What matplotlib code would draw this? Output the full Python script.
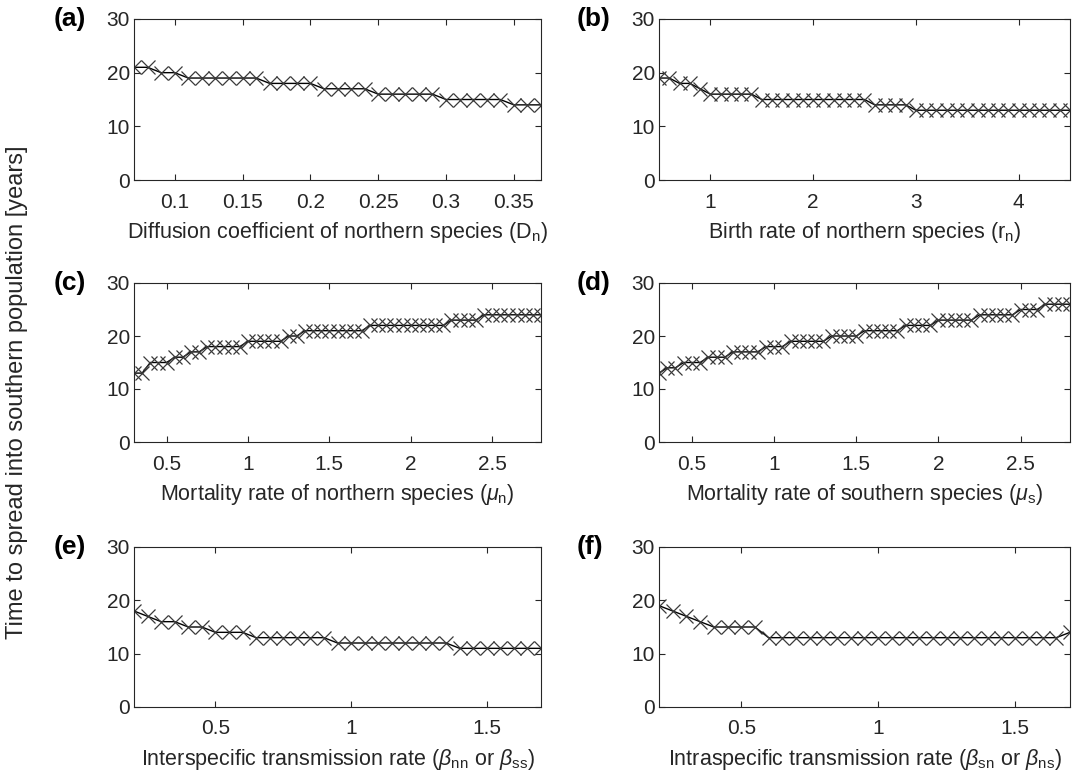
import numpy as np
import matplotlib.pyplot as plt
from matplotlib.ticker import FuncFormatter

plt.rcParams['font.family'] = ['Liberation Sans', 'DejaVu Sans']
plt.rcParams['mathtext.fontset'] = 'custom'
plt.rcParams['mathtext.rm'] = 'Liberation Sans'
plt.rcParams['mathtext.it'] = 'Liberation Sans:italic'

# (a) diffusion coefficient of northern species
x_a = np.round(np.arange(0.07, 0.3701, 0.01), 2)
y_a = [21, 21, 20, 20, 19, 19, 19, 19, 19, 19, 18, 18, 18, 18, 17, 17, 17, 17,
       16, 16, 16, 16, 16, 15, 15, 15, 15, 15, 14, 14, 14]

# (b) birth rate of northern species
x_b = np.round(np.arange(0.5, 4.501, 0.1), 2)
y_b = [19, 19, 18, 18, 17, 16, 16, 16, 16, 16,
       15, 15, 15, 15, 15, 15, 15, 15, 15, 15, 15,
       14, 14, 14, 14,
       13, 13, 13, 13, 13, 13, 13, 13, 13, 13, 13, 13, 13, 13, 13, 13]

# (c) mortality rate of northern species
x_c = np.round(np.arange(0.3, 2.8001, 0.05), 2)
y_c = [13, 13, 15, 15, 15, 16, 16, 17, 17, 18, 18, 18, 18, 18,
       19, 19, 19, 19, 19, 20, 20, 21, 21, 21, 21, 21, 21, 21, 21,
       22, 22, 22, 22, 22, 22, 22, 22, 22, 22, 23, 23, 23, 23,
       24, 24, 24, 24, 24, 24, 24, 24]

# (d) mortality rate of southern species
x_d = np.round(np.arange(0.3, 2.8001, 0.05), 2)
y_d = [13, 14, 14, 15, 15, 15, 16, 16, 16, 17, 17, 17, 17, 18, 18, 18,
       19, 19, 19, 19, 19, 20, 20, 20, 20, 21, 21, 21, 21, 21,
       22, 22, 22, 22, 23, 23, 23, 23, 23, 24, 24, 24, 24, 24,
       25, 25, 25, 26, 26, 26, 26]

# (e) interspecific transmission rate
x_e = np.round(np.arange(0.2, 1.7001, 0.05), 2)
y_e = [18, 17, 16, 16, 15, 15, 14, 14, 14, 13, 13, 13, 13, 13, 13,
       12, 12, 12, 12, 12, 12, 12, 12, 12, 11, 11, 11, 11, 11, 11, 11]

# (f) intraspecific transmission rate
x_f = np.round(np.arange(0.2, 1.7001, 0.05), 2)
y_f = [19, 18, 17, 16, 15, 15, 15, 15] + [13] * 22 + [14]

panels = [
    ("(a)", x_a, y_a, (0.07, 0.37), [0.1, 0.15, 0.2, 0.25, 0.3, 0.35],
     r"Diffusion coefficient of northern species (D$_{\rm n}$)"),
    ("(b)", x_b, y_b, (0.5, 4.5), [1, 2, 3, 4],
     r"Birth rate of northern species (r$_{\rm n}$)"),
    ("(c)", x_c, y_c, (0.3, 2.8), [0.5, 1, 1.5, 2, 2.5],
     r"Mortality rate of northern species ($\mu_{\rm n}$)"),
    ("(d)", x_d, y_d, (0.3, 2.8), [0.5, 1, 1.5, 2, 2.5],
     r"Mortality rate of southern species ($\mu_{\rm s}$)"),
    ("(e)", x_e, y_e, (0.2, 1.7), [0.5, 1, 1.5],
     r"Interspecific transmission rate ($\beta_{\rm nn}$ or $\beta_{\rm ss}$)"),
    ("(f)", x_f, y_f, (0.2, 1.7), [0.5, 1, 1.5],
     r"Intraspecific transmission rate ($\beta_{\rm sn}$ or $\beta_{\rm ns}$)"),
]

fig = plt.figure(figsize=(10.9, 7.81), dpi=100)

lefts = [134 / 1090, 659 / 1090]
widths = [407 / 1090, 411 / 1090]
bottoms = [601 / 781, 339 / 781, 74 / 781]
heights = [161 / 781, 159 / 781, 160 / 781]
label_x = [54 / 1090, 577 / 1090]

txt = '#262626'
for k, (tag, xs, ys, xlim, xt, xlab) in enumerate(panels):
    r, c = divmod(k, 2)
    ax = fig.add_axes([lefts[c], bottoms[r], widths[c], heights[r]])
    ax.plot(xs, ys, '-', color='black', lw=1.0, marker='x', ms=9.5,
            mec='#3a3a3a', mew=0.9)
    ax.set_xlim(*xlim)
    ax.set_ylim(0, 30)
    ax.set_xticks(xt)
    ax.set_yticks([0, 10, 20, 30])
    ax.xaxis.set_major_formatter(FuncFormatter(lambda v, p: "%g" % v))
    ax.tick_params(direction='in', top=True, right=True, length=4,
                   width=0.8, labelsize=15, colors=txt)
    ax.tick_params(axis='x', pad=9)
    ax.tick_params(axis='y', pad=3)
    for s in ax.spines.values():
        s.set_color(txt)
        s.set_linewidth(0.8)
    ax.set_xlabel(xlab, fontsize=15.5, color=txt, labelpad=6)
    fig.text(label_x[c], bottoms[r] + heights[r], tag, fontsize=19,
             fontweight='bold', va='center', ha='left')

fig.text(0.016, 0.498, "Time to spread into southern population [years]",
         rotation=90, va='center', ha='center', fontsize=17, color=txt)

fig.savefig("out.png", dpi=100)
